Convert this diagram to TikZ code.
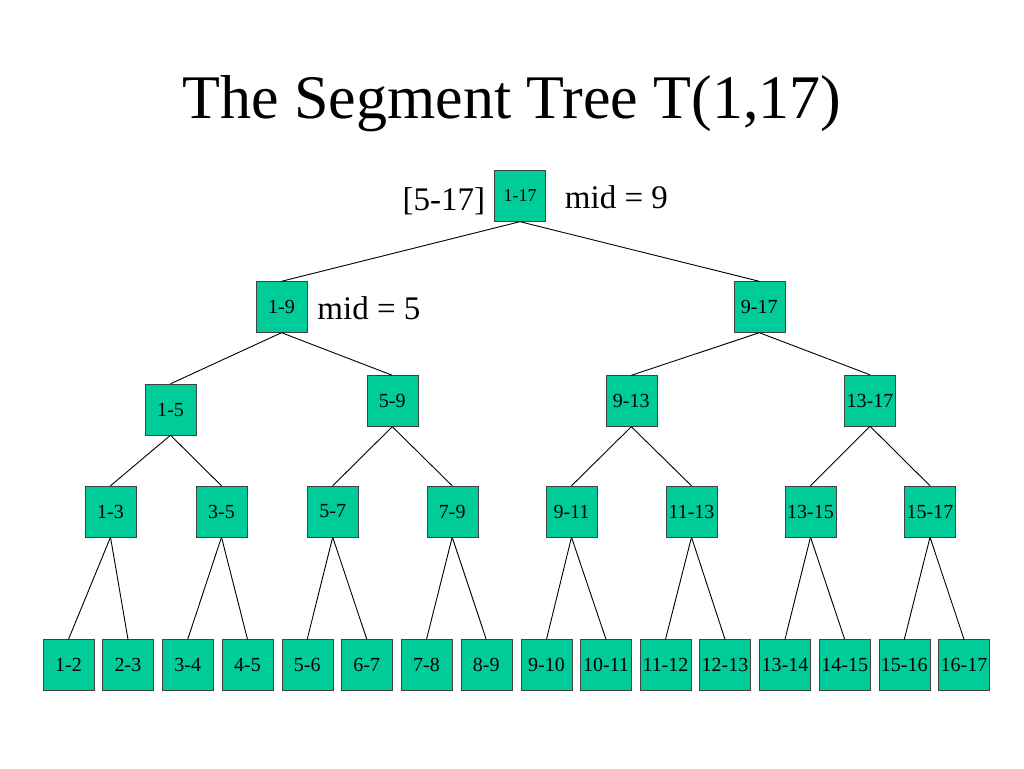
\documentclass[tikz,border=0pt]{standalone}
\usepackage{fontspec}
\setmainfont{Liberation Serif}
\usetikzlibrary{positioning}
\definecolor{segteal}{RGB}{0,204,153}
\begin{document}
\begin{tikzpicture}[x=1pt, y=-1pt,
    seg/.style={rectangle, draw=black!75, fill=segteal, minimum size=51pt, inner sep=0pt, font=\fontsize{20}{20}\selectfont},
    note/.style={inner sep=0pt, font=\fontsize{33}{33}\selectfont},
    edge/.style={black, line width=0.9pt}]
        \useasboundingbox (0,0) rectangle (1024,768);
        \node[anchor=base, font=\fontsize{62}{62}\selectfont] (title) at (512,118) {The Segment Tree T(1,17)};

        \node[seg, font=\fontsize{18}{18}\selectfont] (r1-17) at (520,196) {1-17};
        \node[note, left=9pt of r1-17, yshift=-5pt] (range) {[5-17]};
        \node[note, right=19pt of r1-17, yshift=-1pt] (mid9) {mid = 9};

        \node[seg] (r1-9) at (281.5,307) {1-9};
        \node[seg] (r9-17) at (759.3,307) {9-17};
        \node[note, right=10pt of r1-9, yshift=-1pt] (mid5) {mid = 5};

        \node[seg] (r1-5) at (170.5,409.5) {1-5};
        \node[seg] (r5-9) at (392.3,401) {5-9};
        \node[seg] (r9-13) at (631.3,401) {9-13};
        \node[seg] (r13-17) at (870,400.5) {13-17};

        \node[seg] (r1-3) at (110.5,511.5) {1-3};
        \node[seg] (r3-5) at (221.5,511.5) {3-5};
        \node[seg] (r5-7) at (332.7,511.5) {5-7};
        \node[seg] (r7-9) at (452.2,511.5) {7-9};
        \node[seg] (r9-11) at (571.5,511.5) {9-11};
        \node[seg] (r11-13) at (691.5,511.5) {11-13};
        \node[seg] (r13-15) at (810.5,511.5) {13-15};
        \node[seg] (r15-17) at (930,511.5) {15-17};

        \node[seg] (r1-2) at (68.5,665) {1-2};
        \node[seg] (r2-3) at (128,665) {2-3};
        \node[seg] (r3-4) at (187.7,665) {3-4};
        \node[seg] (r4-5) at (247.5,665) {4-5};
        \node[seg] (r5-6) at (307.2,665) {5-6};
        \node[seg] (r6-7) at (366.8,665) {6-7};
        \node[seg] (r7-8) at (426.5,665) {7-8};
        \node[seg] (r8-9) at (486.2,665) {8-9};
        \node[seg] (r9-10) at (546.5,665) {9-10};
        \node[seg] (r10-11) at (606,665) {10-11};
        \node[seg] (r11-12) at (665.5,665) {11-12};
        \node[seg] (r12-13) at (725,665) {12-13};
        \node[seg] (r13-14) at (785,665) {13-14};
        \node[seg] (r14-15) at (844.7,665) {14-15};
        \node[seg] (r15-16) at (904.3,665) {15-16};
        \node[seg] (r16-17) at (964,665) {16-17};

        \draw[edge] (r1-17.south) -- (r1-9.north);
        \draw[edge] (r1-17.south) -- (r9-17.north);
        \draw[edge] (r1-9.south) -- (r1-5.north);
        \draw[edge] (r1-9.south) -- (r5-9.north);
        \draw[edge] (r9-17.south) -- (r9-13.north);
        \draw[edge] (r9-17.south) -- (r13-17.north);
        \draw[edge] (r1-5.south) -- (r1-3.north);
        \draw[edge] (r1-5.south) -- (r3-5.north);
        \draw[edge] (r5-9.south) -- (r5-7.north);
        \draw[edge] (r5-9.south) -- (r7-9.north);
        \draw[edge] (r9-13.south) -- (r9-11.north);
        \draw[edge] (r9-13.south) -- (r11-13.north);
        \draw[edge] (r13-17.south) -- (r13-15.north);
        \draw[edge] (r13-17.south) -- (r15-17.north);
        \draw[edge] (r1-3.south) -- (r1-2.north);
        \draw[edge] (r1-3.south) -- (r2-3.north);
        \draw[edge] (r3-5.south) -- (r3-4.north);
        \draw[edge] (r3-5.south) -- (r4-5.north);
        \draw[edge] (r5-7.south) -- (r5-6.north);
        \draw[edge] (r5-7.south) -- (r6-7.north);
        \draw[edge] (r7-9.south) -- (r7-8.north);
        \draw[edge] (r7-9.south) -- (r8-9.north);
        \draw[edge] (r9-11.south) -- (r9-10.north);
        \draw[edge] (r9-11.south) -- (r10-11.north);
        \draw[edge] (r11-13.south) -- (r11-12.north);
        \draw[edge] (r11-13.south) -- (r12-13.north);
        \draw[edge] (r13-15.south) -- (r13-14.north);
        \draw[edge] (r13-15.south) -- (r14-15.north);
        \draw[edge] (r15-17.south) -- (r15-16.north);
        \draw[edge] (r15-17.south) -- (r16-17.north);
      \end{tikzpicture}
\end{document}
